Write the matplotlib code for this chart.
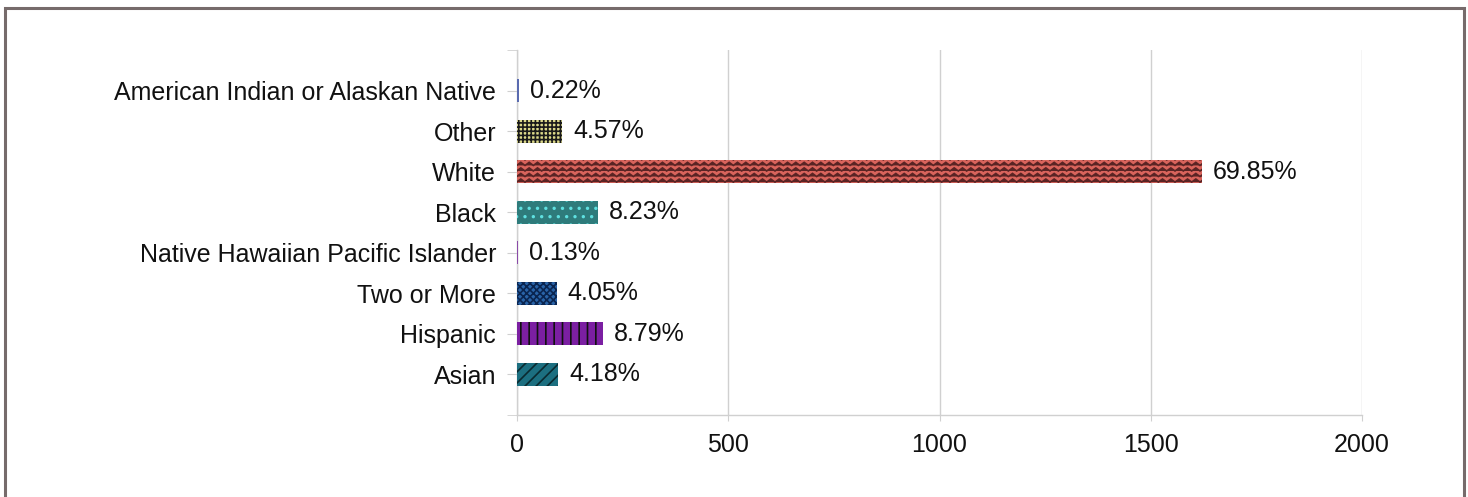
import warnings
import numpy as np
import matplotlib
matplotlib.use("Agg")
import matplotlib.pyplot as plt
from matplotlib import hatch as mhatch
from matplotlib.path import Path
from matplotlib.patches import Rectangle

warnings.filterwarnings("ignore")

# ---- data (top to bottom as shown) ----
categories = ["American Indian or Alaskan Native", "Other", "White", "Black",
              "Native Hawaiian Pacific Islander", "Two or More", "Hispanic", "Asian"]
counts = [5, 106, 1621, 191, 3, 94, 204, 97]
pct_labels = ["0.22%", "4.57%", "69.85%", "8.23%", "0.13%", "4.05%", "8.79%", "4.18%"]
x_ticks = [0, 500, 1000, 1500, 2000]

face_colors = ["#5a6bb0", "#dcd98a", "#d9645c", "#2e7b7b",
               "#8a4aa8", "#2a64a8", "#7b1fa2", "#1c6f80"]
hatch_colors = ["#3a4a90", "#1a1a1a", "#5a2424", "#5fe0e0",
               "#5a2a78", "#0a2550", "#111111", "#0a2a30"]
hatches = [None, "++++", "zzz", "..", None, "xxxxx", "||", "///"]


# ---- custom zigzag hatch ----
class ZigZagHatch(mhatch.HatchPatternBase):
    def __init__(self, hatch, density):
        self.num_lines = int(hatch.count("z") * density)
        self.teeth = 12
        self.n = 2 * self.teeth + 1
        self.num_vertices = self.num_lines * self.n

    def set_vertices_and_codes(self, vertices, codes):
        n = self.n
        xs = np.linspace(0, 1, n)
        amp = 0.28 / self.num_lines
        offs = np.where(np.arange(n) % 2 == 0, -amp, amp)
        for i in range(self.num_lines):
            y = (i + 0.5) / self.num_lines
            vertices[i * n:(i + 1) * n, 0] = xs
            vertices[i * n:(i + 1) * n, 1] = y + offs
            codes[i * n] = Path.MOVETO
            codes[i * n + 1:(i + 1) * n] = Path.LINETO

    get_vertices_and_codes = set_vertices_and_codes


mhatch._hatch_types.append(ZigZagHatch)

plt.rcParams["font.family"] = ["Liberation Sans", "DejaVu Sans"]
plt.rcParams["hatch.linewidth"] = 1.2

FS = 18
W, H = 1468, 497
fig = plt.figure(figsize=(W / 100, H / 100), dpi=100)
ax = fig.add_axes([517 / W, 1 - 415 / H, (1362 - 517) / W, (415 - 50) / H])

n = len(categories)
ypos = np.arange(n)[::-1]  # top category highest
for y, c, fc, hc, h in zip(ypos, counts, face_colors, hatch_colors, hatches):
    ax.barh(y, c, height=0.57, color=fc, edgecolor=hc, linewidth=0, hatch=h, zorder=3)

for y, c, lab in zip(ypos, counts, pct_labels):
    ax.annotate(lab, (c, y), xytext=(8, 0), textcoords="offset points",
                va="center", ha="left", fontsize=FS, color="#111111")

ax.set_xlim(0, 2000)
ax.set_ylim(-1, n)
ax.set_xticks(x_ticks)
ax.set_xticklabels([str(t) for t in x_ticks])
ax.set_yticks(ypos)
ax.set_yticklabels(categories)
ax.set_yticks([-1, n], minor=True)

grid_c = "#d0d0d0"
ax.grid(axis="x", color=grid_c, linewidth=1, zorder=0)
for s in ["top", "right"]:
    ax.spines[s].set_visible(False)
for s in ["left", "bottom"]:
    ax.spines[s].set_color(grid_c)
    ax.spines[s].set_linewidth(1)

ax.tick_params(axis="y", length=7, color=grid_c, pad=8, labelsize=FS, labelcolor="#111111")
ax.tick_params(axis="y", which="minor", length=7, color=grid_c)
ax.tick_params(axis="x", length=4, color=grid_c, pad=9, labelsize=FS, labelcolor="#111111")

# outer frame
fig.patches.append(Rectangle((5 / W, -0.1), (1464 - 5) / W, 1.1 - 8 / H,
                             transform=fig.transFigure, fill=False,
                             edgecolor="#766b6b", linewidth=2.2, clip_on=False))

fig.savefig("out.png", dpi=100)
